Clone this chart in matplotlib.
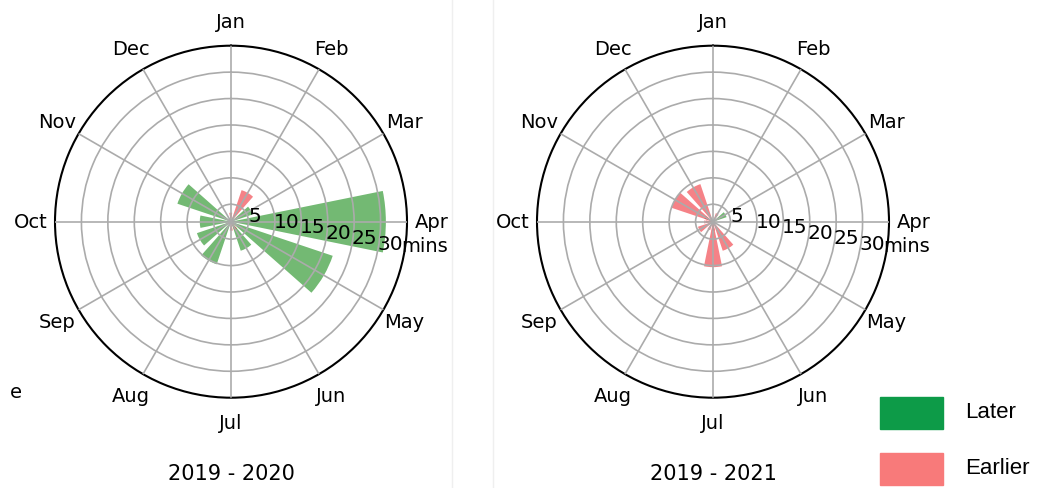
import numpy as np
import matplotlib.pyplot as plt
from matplotlib.patches import Rectangle

# ── data ─────────────────────────────────────────────────────────
months = ["Jan", "Feb", "Mar", "Apr", "May", "Jun",
          "Jul", "Aug", "Sep", "Oct", "Nov", "Dec"]

# shift in minutes per month: positive = later, negative = earlier
shift_2020 = [0, -8.0, 6.0, 31.0, 22.0, 7.5, 0, 10.2, 8.5, 7.6, 12.4, 0]
shift_2021 = [0, 0, 4.4, 0, 0, -7.5, -10.3, 0, -4.7, -3.0, -10.0, -9.2]

panel_titles = ["2019 - 2020", "2019 - 2021"]
r_ticks = [5, 10, 15, 20, 25, 30]
legend_labels = ["Later", "Earlier"]

GREEN = "#008000"
RED = "#ee1c25"
R_MIN, R_MAX = 1.7, 35


def draw_panel(ax, shifts, title):
    theta = np.arange(len(months)) * 2 * np.pi / len(months)
    vals = np.array(shifts, dtype=float)
    ax.set_theta_zero_location("N")
    ax.set_theta_direction(-1)

    colours = [GREEN if v > 0 else RED for v in vals]
    ax.bar(theta, np.abs(vals) - R_MIN, width=0.4, bottom=R_MIN,
           color=colours, alpha=0.55, linewidth=0, zorder=1)

    ax.set_ylim(R_MIN, R_MAX)
    ax.set_yticks(r_ticks)
    ax.set_yticklabels([str(t) for t in r_ticks])
    ax.set_rlabel_position(102)
    ax.tick_params(axis="y", labelsize=14.5, pad=0)
    ax.set_xticks(theta)
    ax.set_xticklabels(months)
    ax.tick_params(axis="x", labelsize=14, pad=7)
    ax.grid(True, color="#ababab", lw=1.2)
    ax.set_axisbelow(False)
    for gl in ax.get_xgridlines() + ax.get_ygridlines():
        gl.set_zorder(2)
    ax.spines["polar"].set_linewidth(1.5)
    ax.text(0.985, 0.432, "mins", transform=ax.transAxes,
            ha="left", va="center", fontsize=14)
    ax.text(0.5, -0.213, title, transform=ax.transAxes,
            ha="center", va="center", fontsize=15)


fig = plt.figure(figsize=(10.42, 4.89), dpi=100)
W, H = 1042, 489
size = 352
for cx, shifts, title in zip([231, 713], [shift_2020, shift_2021], panel_titles):
    ax = fig.add_axes([(cx - size / 2) / W, (H - 222.7 - size / 2) / H,
                       size / W, size / H], projection="polar")
    draw_panel(ax, shifts, title)

# faint borders from the stitched screenshots
for x in [452, 493]:
    fig.add_artist(plt.Line2D([x / W, x / W], [0, 1], color="#efefef", lw=1))
fig.text(10 / W, 1 - 393 / H, "e", fontsize=14, ha="left", va="center")

# legend drawn by hand
for i, (lab, col) in enumerate(zip(legend_labels, ["#0d9b48", "#f87a7a"])):
    y = 398 + i * 56
    fig.add_artist(Rectangle((880 / W, 1 - (y + 32) / H), 63 / W, 32 / H,
                             transform=fig.transFigure, color=col))
    fig.text(965 / W, 1 - (y + 15) / H, lab, fontsize=16,
             family="Liberation Sans", ha="left", va="center")

fig.savefig("out.png", dpi=100)
